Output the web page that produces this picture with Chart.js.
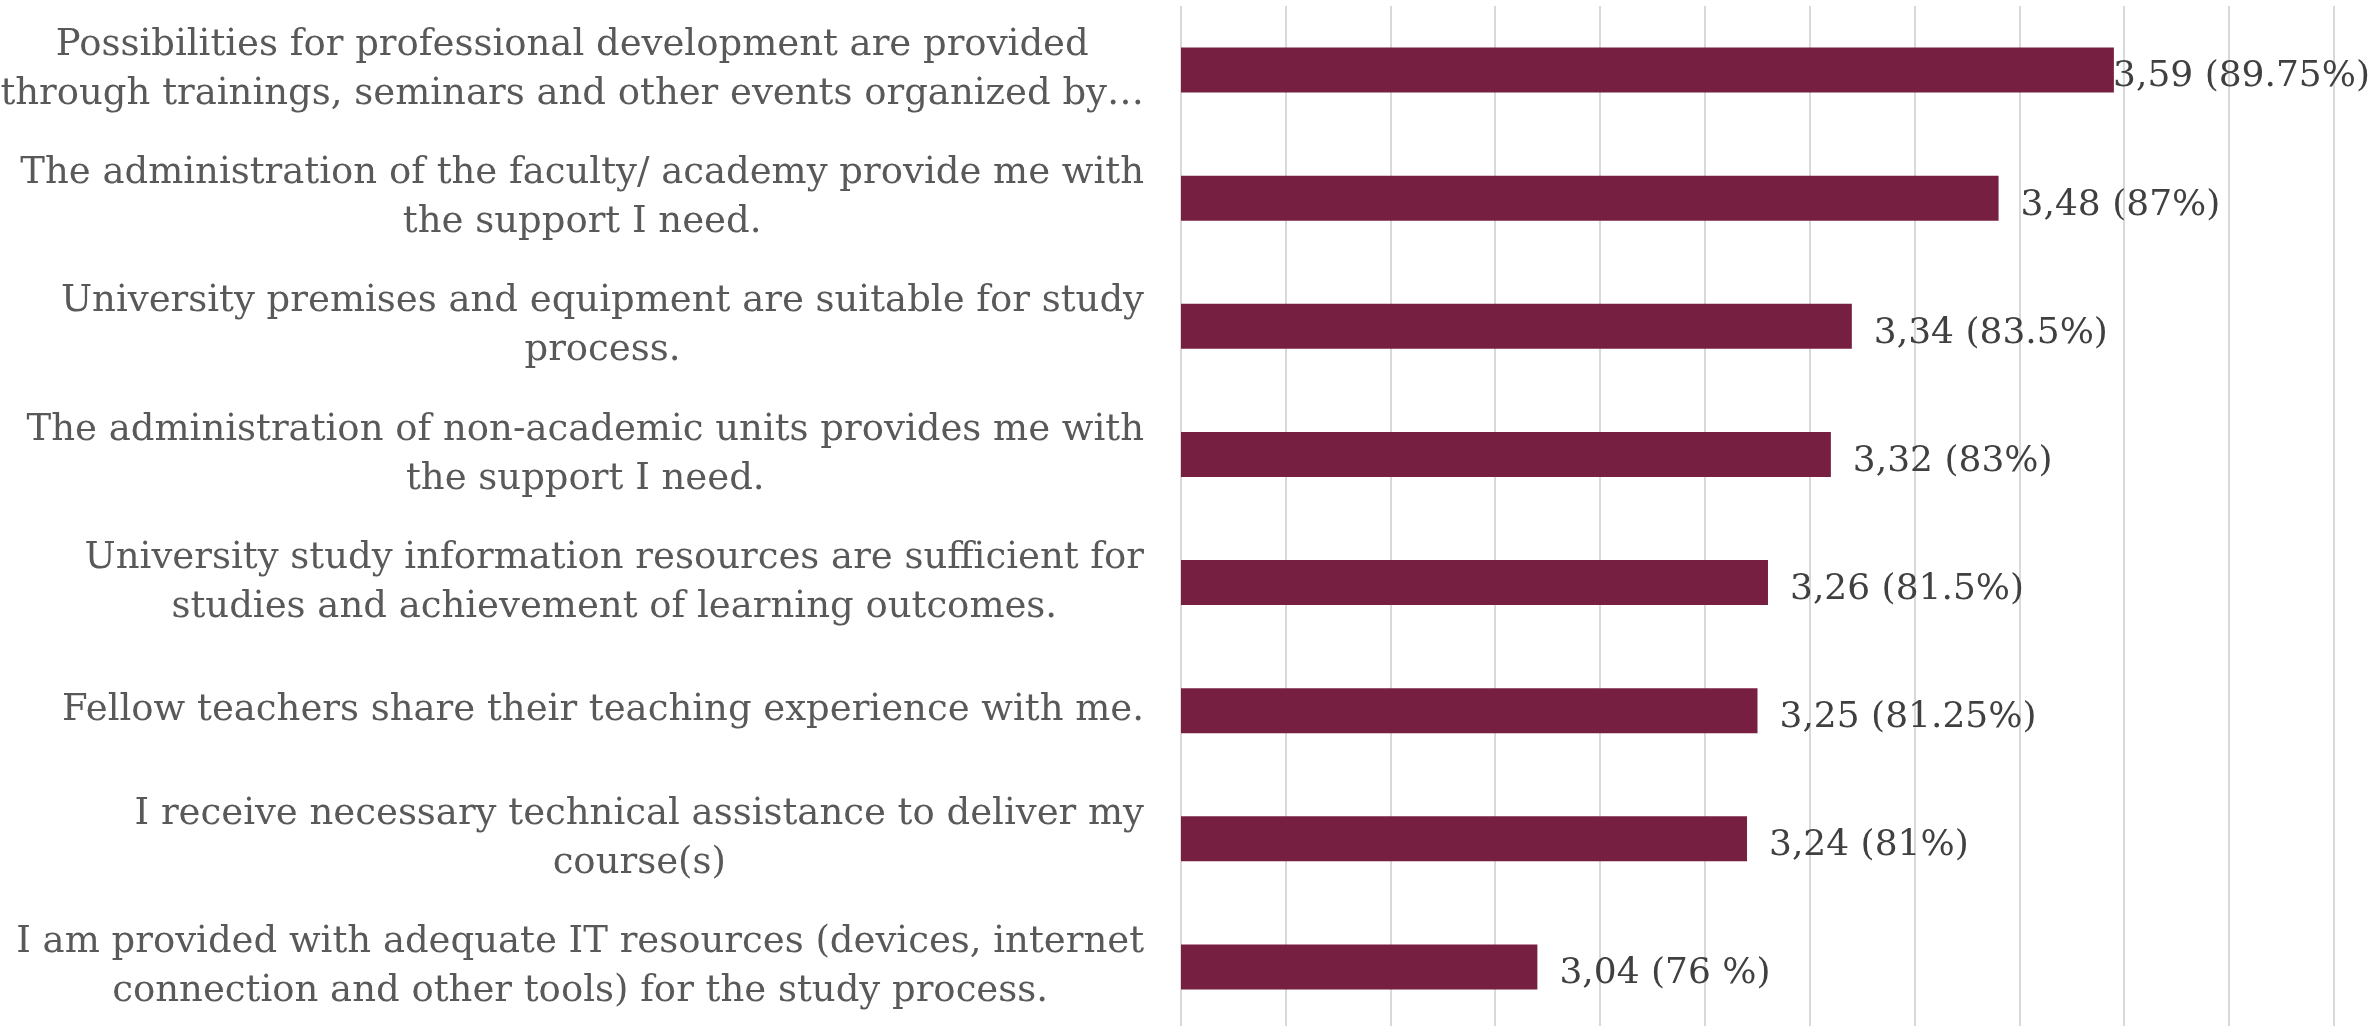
<!DOCTYPE html>
<html>
<head>
<meta charset="utf-8">
<script src="https://cdn.jsdelivr.net/npm/chart.js@4"></script>
<style>
  html, body { margin: 0; padding: 0; background: #fff; overflow: hidden; }
  #wrap { position: relative; width: 2374px; height: 1031px; }
</style>
</head>
<body>
<div id="wrap"><canvas id="myChart"></canvas></div>
<script>
// survey statements, top to bottom, each split into the lines it is shown on
const statements = [
  ['Possibilities for professional development are provided', 'through trainings, seminars and other events organized by\u2026'],
  ['The administration of the faculty/ academy provide me with', 'the support I need.'],
  ['University premises and equipment are suitable for study', 'process.'],
  ['The administration of non-academic units provides me with', 'the support I need.'],
  ['University study information resources are sufficient for', 'studies and achievement of learning outcomes.'],
  ['Fellow teachers share their teaching experience with me.'],
  ['I receive necessary technical assistance to deliver my', 'course(s)'],
  ['I am provided with adequate IT resources (devices, internet', 'connection and other tools) for the study process.']
];

// mean score (scale 1-4) and share of maximum
const meanScores = [3.59, 3.48, 3.34, 3.32, 3.26, 3.25, 3.24, 3.04];
const percentLabels = ['89.75%', '87%', '83.5%', '83%', '81.5%', '81.25%', '81%', '76 %'];

const LABEL_FONT = '37px "DejaVu Serif", serif';
const VALUE_FONT = '36px "DejaVu Serif", serif';

const labelsPlugin = {
  id: 'sideLabels',
  afterDraw(chart) {
    const { ctx } = chart;
    const yScale = chart.scales.y;
    const meta = chart.getDatasetMeta(0);
    ctx.save();
    ctx.textBaseline = 'middle';

    // statement text: block right-aligned to the axis, lines centred in the block
    ctx.font = LABEL_FONT;
    ctx.fillStyle = '#595959';
    ctx.textAlign = 'center';
    const lineH = 49;
    statements.forEach((lines, i) => {
      const y = yScale.getPixelForValue(i);
      const widest = Math.max(...lines.map(l => ctx.measureText(l).width));
      const cx = yScale.right - 37 - widest / 2;
      const top = y - (lines.length - 1) * lineH / 2;
      lines.forEach((l, k) => ctx.fillText(l, cx, top + k * lineH));
    });

    // value labels after each bar, pulled back if they would run off the edge
    ctx.font = VALUE_FONT;
    ctx.fillStyle = '#404040';
    ctx.textAlign = 'left';
    meta.data.forEach((bar, i) => {
      const txt = meanScores[i].toFixed(2).replace('.', ',') + ' (' + percentLabels[i] + ')';
      const w = ctx.measureText(txt).width;
      const x = Math.min(bar.x + 22, chart.width - 4 - w);
      ctx.fillText(txt, x, bar.y + 7);
    });
    ctx.restore();
  }
};

const ctx = document.getElementById('myChart').getContext('2d');

const myChart = new Chart(ctx, {
  type: 'bar',
  data: {
    labels: statements.map(s => s.join(' ')),
    datasets: [{
      data: meanScores,
      backgroundColor: '#771f41',
      borderWidth: 0,
      categoryPercentage: 1,
      barPercentage: 0.352
    }]
  },
  options: {
    indexAxis: 'y',
    responsive: true,
    maintainAspectRatio: false,
    animation: false,
    layout: { padding: { top: 6, right: 40, bottom: 0, left: 0 } },
    plugins: {
      legend: { display: false },
      tooltip: { enabled: false }
    },
    scales: {
      x: {
        min: 2.7,
        max: 3.8,
        ticks: { display: false, stepSize: 0.1 },
        grid: { color: '#d9d9d9', lineWidth: 2, drawTicks: false },
        border: { display: false }
      },
      y: {
        ticks: { display: false },
        grid: { display: false },
        border: { display: false },
        afterFit(scale) { scale.width = 1181; }
      }
    }
  },
  plugins: [labelsPlugin]
});
</script>
</body>
</html>
